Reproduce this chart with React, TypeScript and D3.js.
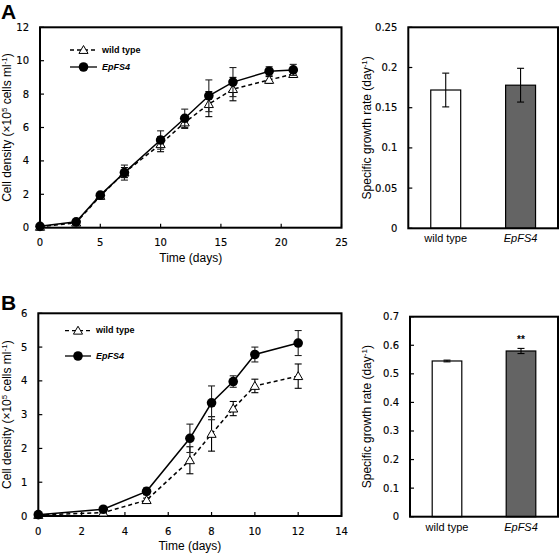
import React from "react";
import * as d3 from "d3";

// Panel A growth curve
const daysA = [0, 3, 5, 7, 10, 12, 14, 16, 19, 21];
const wildA = [0.05, 0.3, 1.9, 3.3, 5.0, 6.3, 7.4, 8.3, 8.85, 9.2];
const wildAErr = [0.02, 0.05, 0.1, 0.3, 0.45, 0.35, 0.75, 0.7, 0.2, 0.2];
const epA = [0.08, 0.35, 1.95, 3.3, 5.25, 6.55, 7.9, 8.72, 9.37, 9.45];
const epAErr = [0.03, 0.05, 0.1, 0.45, 0.55, 0.55, 0.95, 0.87, 0.27, 0.33];
const xTicksA = [0, 5, 10, 15, 20, 25];
const yTicksA = [0, 2, 4, 6, 8, 10, 12];

// Panel B growth curve
const daysB = [0, 3, 5, 7, 8, 9, 10, 12];
const wildB = [0.03, 0.1, 0.47, 1.65, 2.43, 3.18, 3.85, 4.14];
const wildBErr = [0.01, 0.02, 0.06, 0.4, 0.51, 0.21, 0.2, 0.36];
const epB = [0.04, 0.2, 0.73, 2.3, 3.35, 3.98, 4.78, 5.12];
const epBErr = [0.01, 0.03, 0.1, 0.42, 0.5, 0.17, 0.22, 0.37];
const xTicksB = [0, 2, 4, 6, 8, 10, 12, 14];
const yTicksB = [0, 1, 2, 3, 4, 5, 6];

// Growth rate bars
const strains = ["wild type", "EpFS4"];
const rateA = [0.172, 0.178];
const rateAErr = [0.021, 0.021];
const rateB = [0.545, 0.58];
const rateBErr = [0.003, 0.009];
const rateTicksA = [0, 0.05, 0.1, 0.15, 0.2, 0.25];
const rateTickLabelsA = ["0", "0.05", "0.1", "0.15", "0.2", "0.25"];
const rateTicksB = [0, 0.1, 0.2, 0.3, 0.4, 0.5, 0.6, 0.7];
const rateTickLabelsB = ["0", "0.1", "0.2", "0.3", "0.4", "0.5", "0.6", "0.7"];
const signifB = ["", "**"];

const TICKFONT = "'DejaVu Sans', Verdana, sans-serif";
const ARIAL = "'Liberation Sans', Arial, sans-serif";

function ErrBar({ x, y0, y1, color = "#000" }: any) {
  return (
    <g stroke={color} strokeWidth={1.1}>
      <line x1={x} x2={x} y1={y0} y2={y1} />
      <line x1={x - 3.5} x2={x + 3.5} y1={y0} y2={y0} />
      <line x1={x - 3.5} x2={x + 3.5} y1={y1} y2={y1} />
    </g>
  );
}

function LinePanel({ box, xDomain, yDomain, xTicks, yTicks, days, wild, wildErr, ep, epErr, legendY, legendX0, legendX1, letter, letterY }: any) {
  const x = d3.scaleLinear().domain(xDomain).range([box.x0, box.x1]);
  const y = d3.scaleLinear().domain(yDomain).range([box.y1, box.y0]);
  const line = d3.line<number>().x((_, i) => x(days[i])).y((d) => y(d));
  const tri = d3.symbol().type(d3.symbolTriangle).size(36)();
  const midY = (box.y0 + box.y1) / 2;
  const midX = (box.x0 + box.x1) / 2;
  const legMid = (legendX0 + legendX1) / 2;
  return (
    <g>
      <text x={1} y={letterY} fontFamily={ARIAL} fontWeight="bold" fontSize={21}>{letter}</text>
      {yTicks.map((t: number) => (
        <g key={"y" + t}>
          <line x1={box.x0} x2={box.x0 + 4} y1={y(t)} y2={y(t)} stroke="#000" strokeWidth={1.2} />
          <text x={box.x0 - 11} y={y(t)} dy="0.35em" textAnchor="end" fontFamily={TICKFONT} fontSize={10} stroke="#000" strokeWidth={0.15}>{t}</text>
        </g>
      ))}
      {xTicks.map((t: number) => (
        <g key={"x" + t}>
          <line x1={x(t)} x2={x(t)} y1={box.y1} y2={box.y1 - 4} stroke="#000" strokeWidth={1.2} />
          <text x={x(t)} y={box.y1 + 15} dy="0.35em" textAnchor="middle" fontFamily={TICKFONT} fontSize={10} stroke="#000" strokeWidth={0.15}>{t}</text>
        </g>
      ))}
      <rect x={box.x0} y={box.y0} width={box.x1 - box.x0} height={box.y1 - box.y0} fill="none" stroke="#000" strokeWidth={2} />
      <text x={midX} y={box.y1 + 34} textAnchor="middle" fontFamily={ARIAL} fontSize={12}>Time (days)</text>
      <text transform={`translate(${7},${midY}) rotate(-90)`} textAnchor="middle" dy="0.35em" fontFamily={ARIAL} fontSize={12}>
        Cell density (×10<tspan dy={-4} fontSize={8}>5</tspan><tspan dy={4}> cells ml</tspan><tspan dy={-4} fontSize={8}>-1</tspan><tspan dy={4}>)</tspan>
      </text>
      {/* wild type */}
      <path d={line(wild) || ""} fill="none" stroke="#000" strokeWidth={1.5} strokeDasharray="4,3" />
      {wild.map((v: number, i: number) => (
        <ErrBar key={"we" + i} x={x(days[i])} y0={y(v - wildErr[i])} y1={y(v + wildErr[i])} />
      ))}
      {wild.map((v: number, i: number) => (
        <path key={"wt" + i} d={tri || ""} transform={`translate(${x(days[i])},${y(v) + 0.8})`} fill="#fff" stroke="#000" strokeWidth={1} />
      ))}
      {/* EpFS4 */}
      <path d={line(ep) || ""} fill="none" stroke="#000" strokeWidth={1.5} />
      {ep.map((v: number, i: number) => (
        <ErrBar key={"ee" + i} x={x(days[i])} y0={y(v - epErr[i])} y1={y(v + epErr[i])} color="#222" />
      ))}
      {ep.map((v: number, i: number) => (
        <circle key={"ec" + i} cx={x(days[i])} cy={y(v)} r={4.8} fill="#000" />
      ))}
      {/* legend */}
      <line x1={legendX0} x2={legendX1} y1={legendY[0]} y2={legendY[0]} stroke="#000" strokeWidth={1.3} strokeDasharray="4,3" />
      <path d={tri || ""} transform={`translate(${legMid},${legendY[0] + 0.8})`} fill="#fff" stroke="#000" strokeWidth={1} />
      <text x={legendX1 + 5} y={legendY[0]} dy="0.3em" fontFamily={ARIAL} fontWeight="bold" fontSize={9}>wild type</text>
      <line x1={legendX0} x2={legendX1} y1={legendY[1]} y2={legendY[1]} stroke="#000" strokeWidth={1.3} />
      <circle cx={legMid} cy={legendY[1]} r={4.8} fill="#000" />
      <text x={legendX1 + 5} y={legendY[1]} dy="0.3em" fontFamily={ARIAL} fontWeight="bold" fontStyle="italic" fontSize={9}>EpFS4</text>
    </g>
  );
}

function BarPanel({ box, yMax, ticks, tickLabels, values, errs, signif }: any) {
  const x = d3.scaleBand().domain(strains).range([box.x0, box.x1]).paddingInner(0.6).paddingOuter(0.3);
  const y = d3.scaleLinear().domain([0, yMax]).range([box.y1, box.y0]);
  const fills = ["#fff", "#646464"];
  const midY = (box.y0 + box.y1) / 2;
  return (
    <g>
      {ticks.map((t: number, i: number) => (
        <g key={"t" + i}>
          <line x1={box.x0} x2={box.x0 + 4} y1={y(t)} y2={y(t)} stroke="#000" strokeWidth={1.2} />
          <text x={box.x0 - 11} y={y(t)} dy="0.35em" textAnchor="end" fontFamily={TICKFONT} fontSize={10} stroke="#000" strokeWidth={0.15}>{tickLabels[i]}</text>
        </g>
      ))}
      {strains.map((s, i) => (
        <g key={s}>
          <rect x={x(s)} y={y(values[i])} width={x.bandwidth()} height={y(0) - y(values[i])} fill={fills[i]} stroke="#000" strokeWidth={1.2} />
          <ErrBar x={(x(s) as number) + x.bandwidth() / 2} y0={y(values[i] - errs[i])} y1={y(values[i] + errs[i])} />
          {signif && signif[i] ? (
            <text x={(x(s) as number) + x.bandwidth() / 2} y={y(values[i] + errs[i]) - 5} textAnchor="middle" fontFamily={ARIAL} fontWeight="bold" fontSize={10}>{signif[i]}</text>
          ) : null}
          <text x={(x(s) as number) + x.bandwidth() / 2} y={box.y1 + 10} dy="0.35em" textAnchor="middle" fontFamily={ARIAL} fontSize={11} fontStyle={i === 1 ? "italic" : "normal"}>{s}</text>
        </g>
      ))}
      <rect x={box.x0} y={box.y0} width={box.x1 - box.x0} height={box.y1 - box.y0} fill="none" stroke="#000" strokeWidth={2} />
      <text transform={`translate(${367},${midY}) rotate(-90)`} textAnchor="middle" dy="0.35em" fontFamily={ARIAL} fontSize={12}>
        Specific growth rate (day<tspan dy={-4} fontSize={8}>-1</tspan><tspan dy={4}>)</tspan>
      </text>
    </g>
  );
}

export default function App() {
  return (
    <svg width={559} height={555} style={{ position: "absolute", left: 0, top: 0, background: "#fff" }}>
      <rect width={559} height={555} fill="#fff" />
      <LinePanel
        box={{ x0: 40, x1: 341.5, y0: 27.3, y1: 227.7 }}
        xDomain={[0, 25]} yDomain={[0, 12]} xTicks={xTicksA} yTicks={yTicksA}
        days={daysA} wild={wildA} wildErr={wildAErr} ep={epA} epErr={epAErr}
        legendY={[50, 67]} legendX0={70} legendX1={97} letter="A" letterY={19}
      />
      <BarPanel box={{ x0: 408.3, x1: 558, y0: 27.3, y1: 228.3 }} yMax={0.25} ticks={rateTicksA} tickLabels={rateTickLabelsA} values={rateA} errs={rateAErr} />
      <LinePanel
        box={{ x0: 38.3, x1: 341.5, y0: 313.3, y1: 516 }}
        xDomain={[0, 14]} yDomain={[0, 6]} xTicks={xTicksB} yTicks={yTicksB}
        days={daysB} wild={wildB} wildErr={wildBErr} ep={epB} epErr={epBErr}
        legendY={[330.7, 356]} legendX0={65} legendX1={91} letter="B" letterY={310}
      />
      <BarPanel box={{ x0: 410, x1: 558, y0: 316.7, y1: 516.7 }} yMax={0.7} ticks={rateTicksB} tickLabels={rateTickLabelsB} values={rateB} errs={rateBErr} signif={signifB} />
    </svg>
  );
}
